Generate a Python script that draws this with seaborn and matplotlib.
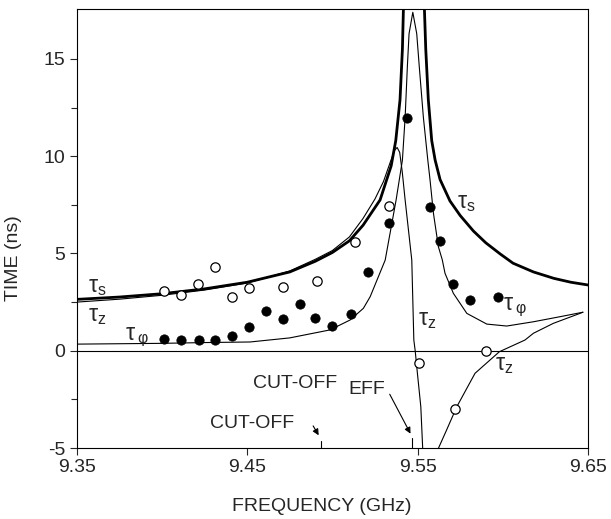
import matplotlib
matplotlib.use("Agg")
import matplotlib.pyplot as plt
import seaborn as sns

# tau_s (thick), two branches either side of the resonance
ts_left_f = [9.350, 9.375, 9.400, 9.425, 9.450, 9.475, 9.490, 9.500, 9.510, 9.518,
             9.528, 9.5345, 9.5372, 9.5397, 9.5411, 9.5417]
ts_left_t = [2.64, 2.76, 2.93, 3.18, 3.52, 4.05, 4.6, 5.05, 5.65, 6.45,
             7.75, 9.5, 10.8, 12.9, 15.5, 17.6]
ts_right_f = [9.5540, 9.5548, 9.5563, 9.5583, 9.5603, 9.5632, 9.569, 9.575, 9.5828,
              9.590, 9.5984, 9.606, 9.618, 9.630, 9.640, 9.650]
ts_right_t = [17.6, 15.5, 12.9, 10.8, 9.8, 8.8, 7.7, 6.95, 6.15,
              5.55, 4.98, 4.5, 4.05, 3.72, 3.52, 3.38]

# tau_z (thin), left part and right part
tz_left_f = [9.350, 9.375, 9.400, 9.425, 9.450, 9.475, 9.490, 9.500, 9.510, 9.518,
             9.525, 9.530, 9.534, 9.5365, 9.538, 9.5395, 9.541, 9.5427, 9.5466,
             9.5478, 9.5486, 9.5499, 9.5519, 9.553]
tz_left_t = [2.50, 2.65, 2.85, 3.12, 3.48, 4.1, 4.7, 5.15, 5.85, 6.8,
             7.8, 8.7, 9.7, 10.3, 10.45, 10.2, 9.2, 7.75, 4.66,
             0.55, 0.0, -1.16, -2.88, -5.02]
tz_right_f = [9.5622, 9.567, 9.573, 9.5837, 9.598, 9.613, 9.618, 9.6297, 9.6453, 9.647]
tz_right_t = [-5.02, -4.08, -2.88, -1.16, -0.05, 0.55, 0.9, 1.41, 1.92, 1.98]

# tau_phi (thin)
tp_f = [9.350, 9.375, 9.400, 9.425, 9.4517, 9.475, 9.4986, 9.5104, 9.5182, 9.5222,
        9.531, 9.5374, 9.5411, 9.5427, 9.544, 9.545, 9.5472, 9.5495, 9.551, 9.5534,
        9.556, 9.5573, 9.5593, 9.5622, 9.5645, 9.5661, 9.571, 9.5789, 9.5906, 9.6023,
        9.618, 9.6336, 9.647]
tp_t = [0.34, 0.36, 0.38, 0.42, 0.45, 0.66, 1.07, 1.58, 2.18, 2.78,
        4.66, 7.75, 9.8, 12.0, 14.6, 16.3, 17.4, 16.3, 14.6, 12.0,
        9.8, 8.79, 7.07, 5.35, 4.67, 3.98, 2.95, 1.92, 1.37, 1.27,
        1.49, 1.75, 1.98]

# measured points
phi_f = [9.401, 9.411, 9.422, 9.431, 9.441, 9.451, 9.461, 9.471, 9.481, 9.490,
         9.500, 9.511, 9.521, 9.533, 9.544, 9.557, 9.563, 9.571, 9.581, 9.597]
phi_t = [0.62, 0.53, 0.53, 0.53, 0.76, 1.22, 2.06, 1.65, 2.42, 1.70,
         1.29, 1.87, 4.05, 6.59, 11.96, 7.41, 5.66, 3.45, 2.62, 2.75]
z_f = [9.401, 9.411, 9.421, 9.431, 9.441, 9.451, 9.471, 9.491, 9.513, 9.533,
       9.551, 9.572, 9.590]
z_t = [3.09, 2.88, 3.43, 4.29, 2.78, 3.24, 3.29, 3.59, 5.58, 7.46,
       -0.62, -2.97, -0.02]

cutoff = 9.4934
cutoff_eff = 9.5468

xticks = [9.35, 9.45, 9.55, 9.65]
yticks = [-5, 0, 5, 10, 15]

sns.set_style("ticks")
plt.rcParams['font.family'] = ['Liberation Sans', 'DejaVu Sans']
plt.rcParams['mathtext.fontset'] = 'custom'
plt.rcParams['mathtext.rm'] = 'Liberation Sans'
plt.rcParams['mathtext.it'] = 'Liberation Sans'
plt.rcParams['axes.unicode_minus'] = False

fig = plt.figure(figsize=(6.11, 5.19), dpi=100)
ax = fig.add_axes([0.1255, 0.1368, 0.8369, 0.8452])

ax.axhline(0, color='black', lw=0.8)

thin = dict(color='black', lw=0.8, sort=False, estimator=None, ax=ax)
sns.lineplot(x=ts_left_f, y=ts_left_t, color='black', lw=2.0, sort=False, estimator=None, ax=ax)
sns.lineplot(x=ts_right_f, y=ts_right_t, color='black', lw=2.0, sort=False, estimator=None, ax=ax)
sns.lineplot(x=tz_left_f, y=tz_left_t, **thin)
sns.lineplot(x=tz_right_f, y=tz_right_t, **thin)
sns.lineplot(x=tp_f, y=tp_t, **thin)

sns.scatterplot(x=phi_f, y=phi_t, color='black', edgecolor='black', s=45, zorder=5, ax=ax)
sns.scatterplot(x=z_f, y=z_t, color='white', edgecolor='black', linewidth=0.9, s=45, zorder=5, ax=ax)

# cut-off markers on the bottom axis
ax.plot([cutoff, cutoff], [-5, -4.65], color='black', lw=0.8)
ax.plot([cutoff_eff, cutoff_eff], [-5, -4.5], color='black', lw=0.8)

fs = 14
tfs = 16.5
ax.text(9.3566, 3.0, r'$\tau_{\rm s}$', fontsize=tfs)
ax.text(9.3566, 1.5, r'$\tau_{\rm z}$', fontsize=tfs)
ax.text(9.3783, 0.55, r'$\tau_{\;\varphi}$', fontsize=tfs)
ax.text(9.5732, 7.35, r'$\tau_{\rm s}$', fontsize=tfs)
ax.text(9.5503, 1.3, r'$\tau_{\rm z}$', fontsize=tfs)
ax.text(9.6002, 2.1, r'$\tau_{\;\varphi}$', fontsize=tfs)
ax.text(9.5955, -1.0, r'$\tau_{\rm z}$', fontsize=tfs)

ax.text(9.4536, -1.92, 'CUT-OFF', fontsize=fs)
ax.text(9.5092, -2.2, 'EFF', fontsize=fs)
ax.text(9.4283, -3.95, 'CUT-OFF', fontsize=fs)

arrow = dict(arrowstyle='-|>', color='black', lw=0.8, mutation_scale=9)
ax.annotate('', xy=(9.4928, -4.47), xytext=(9.4879, -3.74), arrowprops=arrow)
ax.annotate('', xy=(9.5466, -4.39), xytext=(9.5329, -2.11), arrowprops=arrow)

ax.set_xlim(9.35, 9.65)
ax.set_ylim(-5, 17.55)
ax.set_xticks(xticks)
ax.set_xticklabels([f'{v:.2f}' for v in xticks])
ax.set_yticks(yticks)
ax.set_yticks([-2.5, 2.5, 7.5, 12.5], minor=True)
ax.tick_params(axis='both', which='major', labelsize=fs, length=5, width=0.8, direction='out', pad=3)
ax.tick_params(axis='y', which='minor', length=4, width=0.8, direction='out')
for sp in ax.spines.values():
    sp.set_linewidth(0.8)
    sp.set_color('black')

ax.set_xlabel('FREQUENCY (GHz)', fontsize=fs)
ax.set_ylabel('TIME (ns)', fontsize=fs)
ax.xaxis.set_label_coords(0.48, -0.115)
ax.yaxis.set_label_coords(-0.107, 0.433)

fig.savefig('out.png', dpi=100)
